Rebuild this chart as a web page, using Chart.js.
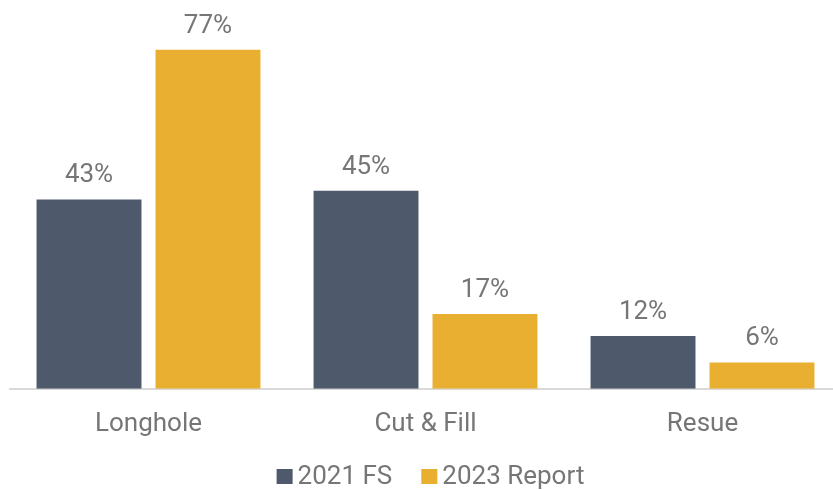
<!DOCTYPE html>
<html>
<head>
<meta charset="utf-8">
<script src="https://cdn.jsdelivr.net/npm/chart.js@4"></script>
<style>
  html, body { margin: 0; padding: 0; background: #fff; overflow: hidden; }
  #wrap { position: relative; width: 841px; height: 490px; }
</style>
</head>
<body>
<div id="wrap"><canvas id="c"></canvas></div>
<script>
const categories = ["Longhole", "Cut & Fill", "Resue"];
const seriesNames = ["2021 FS", "2023 Report"];
const fs2021 = [43, 45, 12];
const report2023 = [77, 17, 6];
const seriesColors = ["#4E5A6C", "#E9AF30"];

const textColor = "#767676";
const fontFamily = "Roboto, 'Noto Sans', sans-serif";

const valueLabels = {
  id: "valueLabels",
  afterDatasetsDraw(chart) {
    const ctx = chart.ctx;
    ctx.save();
    ctx.font = "26px " + fontFamily;
    ctx.fillStyle = textColor;
    ctx.textAlign = "center";
    ctx.textBaseline = "alphabetic";
    chart.data.datasets.forEach((ds, i) => {
      const meta = chart.getDatasetMeta(i);
      meta.data.forEach((bar, j) => {
        ctx.fillText(ds.data[j] + "%", bar.x, bar.y - 17);
      });
    });
    ctx.restore();
  }
};

const customLegend = {
  id: "customLegend",
  afterDraw(chart) {
    const ctx = chart.ctx;
    ctx.save();
    ctx.font = "26px " + fontFamily;
    const box = 16, boxGap = 5, itemGap = 29;
    const items = chart.data.datasets.map(ds => ({
      text: ds.label, color: ds.backgroundColor, w: ctx.measureText(ds.label).width
    }));
    const total = items.reduce((s, it) => s + box + boxGap + it.w, 0) + itemGap * (items.length - 1);
    const ca = chart.chartArea;
    let x = (ca.left + ca.right) / 2 + 5 - total / 2;
    const baseline = 484;
    ctx.textBaseline = "alphabetic";
    ctx.textAlign = "left";
    items.forEach(it => {
      ctx.fillStyle = it.color;
      ctx.fillRect(x, baseline - 15, box, box - 1);
      ctx.fillStyle = textColor;
      ctx.fillText(it.text, x + box + boxGap, baseline);
      x += box + boxGap + it.w + itemGap;
    });
    ctx.restore();
  }
};

new Chart(document.getElementById("c"), {
  type: "bar",
  data: {
    labels: categories,
    datasets: [
      { label: seriesNames[0], data: fs2021, backgroundColor: seriesColors[0],
        categoryPercentage: 0.859, barPercentage: 0.882 },
      { label: seriesNames[1], data: report2023, backgroundColor: seriesColors[1],
        categoryPercentage: 0.859, barPercentage: 0.882 }
    ]
  },
  options: {
    responsive: true,
    maintainAspectRatio: false,
    animation: false,
    layout: { padding: { left: 10, right: 0, top: 0, bottom: 30 } },
    plugins: {
      legend: { display: false },
      tooltip: { enabled: false }
    },
    scales: {
      x: {
        grid: { display: false, drawTicks: false },
        border: { display: true, color: "#D9D9D9", width: 2 },
        ticks: { color: textColor, font: { family: fontFamily, size: 26 }, padding: 20 }
      },
      y: {
        display: false,
        min: 0,
        max: 88.3
      }
    }
  },
  plugins: [valueLabels, customLegend]
});
</script>
</body>
</html>
